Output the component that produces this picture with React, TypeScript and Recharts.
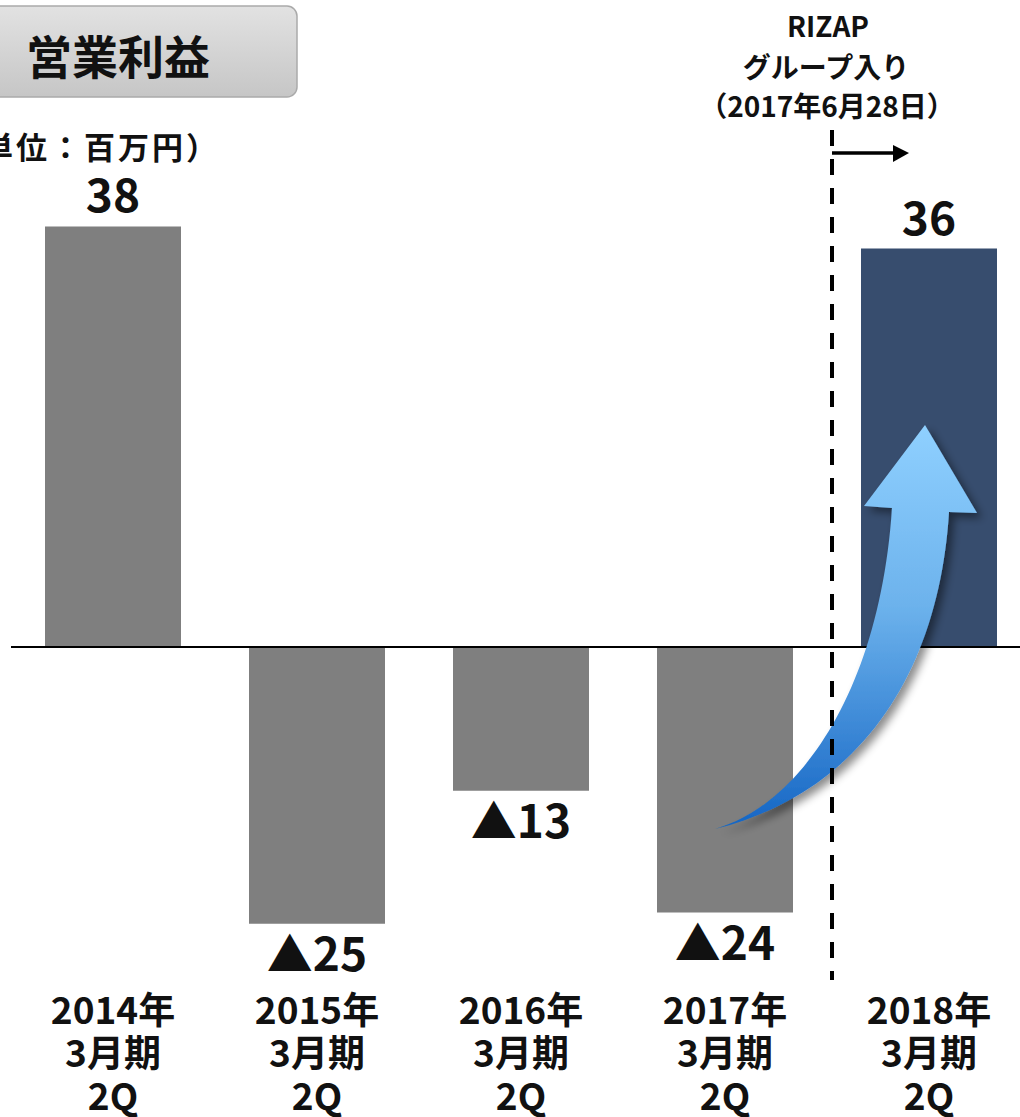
import { BarChart, Bar, XAxis, YAxis, Cell, LabelList, ReferenceLine } from "recharts";

// 営業利益 (百万円), 各年3月期 2Q
const periods = ["2014年", "2015年", "2016年", "2017年", "2018年"];
const periodSuffix = ["3月期", "3月期", "3月期", "3月期", "3月期"];
const quarter = ["2Q", "2Q", "2Q", "2Q", "2Q"];
const profits = [38, -25, -13, -24, 36];
const rizapPeriod = "2018年";

const rows = periods.map((p, i) => ({ label: p, sub: periodSuffix[i], q: quarter[i], value: profits[i] }));

const FONT = "'Noto Sans CJK JP', 'Noto Sans', sans-serif";

const CategoryTick = (props: any) => {
  const { x, y, payload, index } = props;
  const r = rows[index] ?? rows.find((d) => d.label === payload.value);
  return (
    <g fill="#111" fontFamily={FONT} fontWeight={700} fontSize={37} textAnchor="middle">
      <text x={x} y={y + 43}>{r?.label}</text>
      <text x={x} y={y + 86}>{r?.sub}</text>
      <text x={x} y={y + 129}>{r?.q}</text>
    </g>
  );
};

const ValueLabel = (props: any) => {
  const { x, y, width, height, value } = props;
  const top = Math.min(y, y + height);
  const bottom = Math.max(y, y + height);
  const cx = x + width / 2;
  const common = { fontFamily: FONT, fontWeight: 700, fontSize: 46, fill: "#111", textAnchor: "middle" as const };
  if (value >= 0) {
    return (
      <text x={cx} y={top - 14} {...common}>
        {value}
      </text>
    );
  }
  return (
    <text x={cx} y={bottom + 47} {...common}>
      {"▲" + Math.abs(value)}
    </text>
  );
};

export default function App() {
  return (
    <div style={{ position: "relative", width: 1020, height: 1117, overflow: "hidden", background: "#fff" }}>
      <style>{"body{margin:0}"}</style>
      <BarChart width={1040} height={1117} data={rows} margin={{ top: 160, right: 9, bottom: 0, left: 11 }}>
        <XAxis
          dataKey="label"
          axisLine={false}
          tickLine={false}
          tickSize={0}
          interval={0}
          height={138}
          tick={<CategoryTick />}
        />
        <YAxis hide domain={[-30, 44]} />
        <Bar dataKey="value" barSize={136} isAnimationActive={false}>
          {rows.map((d) => (
            <Cell key={d.label} fill={d.label === rizapPeriod ? "#374d6e" : "#7f7f7f"} />
          ))}
          <LabelList dataKey="value" content={<ValueLabel />} />
        </Bar>
        <ReferenceLine y={0} stroke="#000" strokeWidth={2} />
      </BarChart>

      <svg width={1020} height={1117} style={{ position: "absolute", left: 0, top: 0, pointerEvents: "none" }}>
        <defs>
          <linearGradient id="titleFill" x1="0" y1="0" x2="0" y2="1">
            <stop offset="0%" stopColor="#e2e2e2" />
            <stop offset="100%" stopColor="#c6c6c6" />
          </linearGradient>
          <linearGradient id="arrowFill" gradientUnits="userSpaceOnUse" x1="0" y1="425" x2="0" y2="829">
            <stop offset="0%" stopColor="#8fd0ff" />
            <stop offset="45%" stopColor="#6cb2ec" />
            <stop offset="100%" stopColor="#1465c4" />
          </linearGradient>
          <filter id="shadow" x="-20%" y="-20%" width="140%" height="140%">
            <feDropShadow dx="5" dy="5" stdDeviation="4" floodColor="#000" floodOpacity="0.45" />
          </filter>
        </defs>

        {/* title box */}
        <rect x={-12} y={6} width={309} height={91} rx={10} fill="url(#titleFill)" stroke="#aaaaaa" strokeWidth={1.5} />
        <text x={118} y={54} textAnchor="middle" dominantBaseline="central" fontFamily={FONT} fontWeight={700} fontSize={46} fill="#111">
          営業利益
        </text>
        <text x={-52} y={145} dominantBaseline="central" fontFamily={FONT} fontWeight={700} fontSize={31} letterSpacing={3} fill="#111">
          （単位：百万円）
        </text>

        {/* RIZAP note */}
        <g fontFamily={FONT} fontWeight={700} fontSize={28} fill="#111" textAnchor="middle" dominantBaseline="central">
          <text x={828} y={25}>RIZAP</text>
          <text x={826} y={66}>グループ入り</text>
          <text x={827} y={105}>（2017年6月28日）</text>
        </g>
        <line x1={832} y1={153} x2={896} y2={153} stroke="#000" strokeWidth={3.5} />
        <polygon points="893,145 909,153 893,162" fill="#000" />

        {/* curved arrow */}
        <path
          d="M 715 829 C 800 805, 880 690, 892 508 L 864 506 L 925 425 L 977 513 L 949 512 C 940 660, 870 790, 715 829 Z"
          fill="url(#arrowFill)"
          filter="url(#shadow)"
        />

        <line x1={832} y1={130} x2={832} y2={980} stroke="#000" strokeWidth={4} strokeDasharray="16 13" />
      </svg>
    </div>
  );
}
